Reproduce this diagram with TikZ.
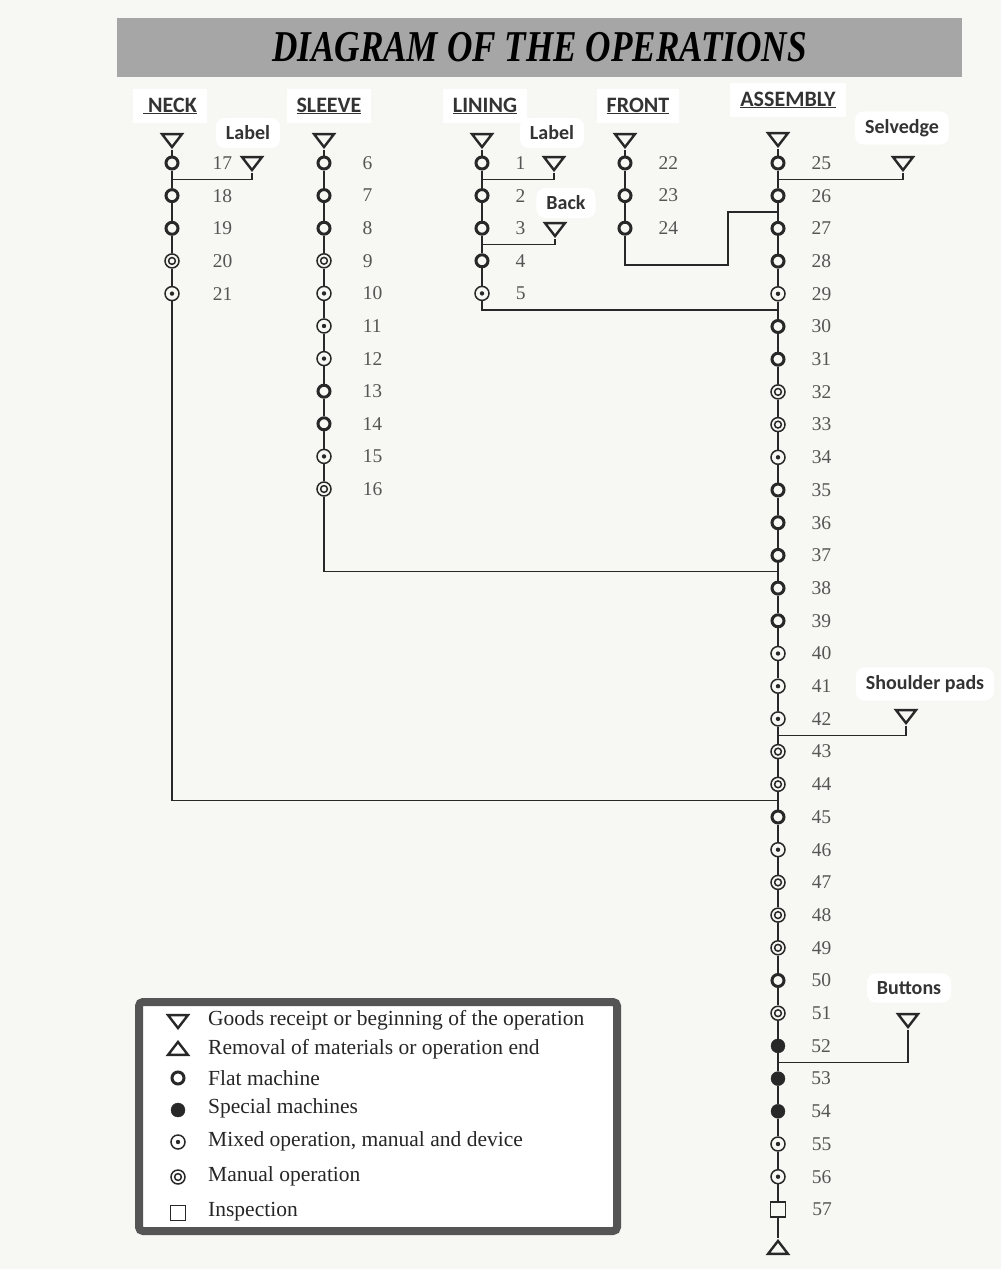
\documentclass[tikz,border=0pt]{standalone}
\usepackage{fontspec}
\setmainfont{Liberation Serif}
\newfontfamily\labfont{Carlito}
\usepackage{xcolor}
\usetikzlibrary{positioning,shapes.geometric,calc}

\definecolor{paper}{RGB}{247,248,243}
\definecolor{banner}{RGB}{166,166,166}
\definecolor{ink}{RGB}{40,40,40}
\definecolor{numgray}{RGB}{85,85,85}
\definecolor{frame}{RGB}{85,85,85}

\begin{document}
\begin{tikzpicture}[x=1pt, y=-1pt,
    op/.style={circle, draw=ink, fill=paper, inner sep=0pt, minimum size=12pt},
    flat/.style={op, line width=3pt},
    mixed/.style={op, line width=1.5pt, minimum size=14pt,
                  path picture={\fill[ink] (path picture bounding box.center) circle (2.2pt);}},
    manual/.style={op, line width=1.5pt, minimum size=14pt,
                   path picture={\draw[ink, line width=1.5pt] (path picture bounding box.center) circle (3.4pt);}},
    special/.style={op, fill=ink, minimum size=14pt},
    inspect/.style={rectangle, draw=ink, fill=paper, line width=1.4pt, minimum size=15pt, inner sep=0pt},
    recv/.style={isosceles triangle, isosceles triangle stretches, shape border rotate=270,
                 draw=ink, fill=paper, line width=2.4pt, inner sep=0pt,
                 minimum width=20pt, minimum height=13pt},
    send/.style={recv, shape border rotate=90},
    wire/.style={draw=ink, line width=1.4pt},
    num/.style={font=\fontsize{19.5}{20}\selectfont, text=numgray, inner sep=0pt},
    head/.style={font=\labfont\bfseries\fontsize{22}{24}\selectfont, text=black!80,
                 fill=white, inner xsep=10pt, inner ysep=9pt},
    tag/.style={font=\labfont\bfseries\fontsize{20}{22}\selectfont, text=black!80,
                fill=white, rounded corners=9pt, inner xsep=10pt, inner ysep=8pt},
    key/.style={font=\fontsize{21.5}{23}\selectfont, text=black!85, anchor=west, inner sep=0pt}
  ]
  \useasboundingbox (0,0) rectangle (1001,1269);
  \fill[paper] (0,0) rectangle (1001,1269);

  \node[fill=banner, minimum width=845pt, minimum height=59pt, inner sep=0pt] (title) at (539.5,47.5)
    {\scalebox{0.8}[1]{\fontsize{44}{48}\selectfont\bfseries\itshape DIAGRAM OF THE OPERATIONS}};

  \node[head] (hNeck)   at (170,106) {\underline{\ NECK}};
  \node[head] (hSleeve) at (329,106) {\underline{SLEEVE}};
  \node[head] (hLining) at (485,106) {\underline{LINING}};
  \node[head] (hFront)  at (638,106) {\underline{FRONT}};
  \node[head] (hAssy)   at (788,100) {\underline{ASSEMBLY}};

  \node[tag] (tgNeck)  at (248,133) {Label};
  \node[tag] (tgLin)   at (552,133) {Label};
  \node[tag] (tgBack)  at (566,203) {Back};
  \node[tag] (tgSelv)  at (902,128) {Selvedge};
  \node[tag] (tgPads)  at (925,684) {Shoulder pads};
  \node[tag] (tgBtn)   at (909,988) {Buttons};

  % neck
  \node[recv] (opN) at (172,139) {};
  \foreach \n/\k [count=\i, remember=\n as \p (initially N)] in
      {17/flat,18/flat,19/flat,20/manual,21/mixed} {
    \node[\k] (op\n) at (172,{163+32.65*(\i-1)}) {};
    \node[num, right=33pt of op\n] (t\n) {\n};
    \draw[wire] (op\p) -- (op\n);
  }

  % sleeve
  \node[recv] (opS) at (324,139) {};
  \foreach \n/\k [count=\i, remember=\n as \p (initially S)] in
      {6/flat,7/flat,8/flat,9/manual,10/mixed,11/mixed,12/mixed,13/flat,14/flat,15/mixed,16/manual} {
    \node[\k] (op\n) at (324,{163+32.6*(\i-1)}) {};
    \node[num, right=31pt of op\n] (t\n) {\n};
    \draw[wire] (op\p) -- (op\n);
  }

  % lining
  \node[recv] (opL) at (482,139) {};
  \foreach \n/\k [count=\i, remember=\n as \p (initially L)] in
      {1/flat,2/flat,3/flat,4/flat,5/mixed} {
    \node[\k] (op\n) at (482,{163+32.6*(\i-1)}) {};
    \node[num, right=26pt of op\n] (t\n) {\n};
    \draw[wire] (op\p) -- (op\n);
  }

  % front
  \node[recv] (opF) at (625,139) {};
  \foreach \n/\k [count=\i, remember=\n as \p (initially F)] in
      {22/flat,23/flat,24/flat} {
    \node[\k] (op\n) at (625,{163+32.6*(\i-1)}) {};
    \node[num, right=26pt of op\n] (t\n) {\n};
    \draw[wire] (op\p) -- (op\n);
  }

  % assembly
  \node[recv] (opA) at (778,138) {};
  \foreach \n/\k [count=\i, remember=\n as \p (initially A)] in
      {25/flat,26/flat,27/flat,28/flat,29/mixed,30/flat,31/flat,32/manual,33/manual,
       34/mixed,35/flat,36/flat,37/flat,38/flat,39/flat,40/mixed,41/mixed,42/mixed,
       43/manual,44/manual,45/flat,46/mixed,47/manual,48/manual,49/manual,50/flat,
       51/manual,52/special,53/special,54/special,55/mixed,56/mixed,57/inspect} {
    \node[\k] (op\n) at (778,{163+32.7*(\i-1)}) {};
    \node[num, right=26pt of op\n] (t\n) {\n};
    \draw[wire] (op\p) -- (op\n);
  }
  \node[send] (opEnd) at (778,1249) {};
  \draw[wire] (op57) -- (opEnd);

  % side feeds
  \node[recv] (fdNeck) at (252,162) {};
  \node[recv] (fdLin)  at (554,162) {};
  \node[recv] (fdBack) at (555,228) {};
  \node[recv] (fdSelv) at (903,162) {};
  \node[recv] (fdPads) at (906,715) {};
  \node[recv] (fdBtn)  at (908,1019) {};

  \coordinate (j17) at ($(op17)!.5!(op18)$);
  \coordinate (j1)  at ($(op1)!.5!(op2)$);
  \coordinate (j3)  at ($(op3)!.5!(op4)$);
  \coordinate (j25) at ($(op25)!.5!(op26)$);
  \coordinate (j26) at ($(op26)!.5!(op27)$);
  \coordinate (j29) at ($(op29)!.5!(op30)$);
  \coordinate (j37) at ($(op37)!.5!(op38)$);
  \coordinate (j42) at ($(op42)!.5!(op43)$);
  \coordinate (j44) at ($(op44)!.5!(op45)$);
  \coordinate (j52) at ($(op52)!.5!(op53)$);
  \coordinate (fBend) at (728,265);

  \draw[wire] (fdNeck) |- (j17);
  \draw[wire] (fdLin) |- (j1);
  \draw[wire] (fdBack) |- (j3);
  \draw[wire] (fdSelv) |- (j25);
  \draw[wire] (fdPads) |- (j42);
  \draw[wire] (fdBtn) |- (j52);
  \draw[wire] (op24) |- (fBend) |- (j26);
  \draw[wire] (op5) |- (j29);
  \draw[wire] (op16) |- (j37);
  \draw[wire] (op21) |- (j44);

  % legend
  \node[draw=frame, line width=8pt, fill=white, rounded corners=4pt,
        minimum width=478pt, minimum height=229pt] (legend) at (378,1116.5) {};
  \node[recv, fill=white]    (k1) at (178,1020) {};
  \node[send, fill=white]    (k2) at (178,1050) {};
  \node[flat, fill=white]    (k3) at (178,1078) {};
  \node[special]             (k4) at (178,1110) {};
  \node[mixed, fill=white]   (k5) at (178,1142) {};
  \node[manual, fill=white]  (k6) at (178,1177) {};
  \node[inspect, fill=white] (k7) at (178,1213) {};
  \node[key] (d1) at (208,1020) {Goods receipt or beginning of the operation};
  \node[key] (d2) at (208,1049) {Removal of materials or operation end};
  \node[key] (d3) at (208,1078) {Flat machine};
  \node[key] (d4) at (208,1108) {Special machines};
  \node[key] (d5) at (208,1141) {Mixed operation, manual and device};
  \node[key] (d6) at (208,1176) {Manual operation};
  \node[key] (d7) at (208,1212) {Inspection};
\end{tikzpicture}
\end{document}
